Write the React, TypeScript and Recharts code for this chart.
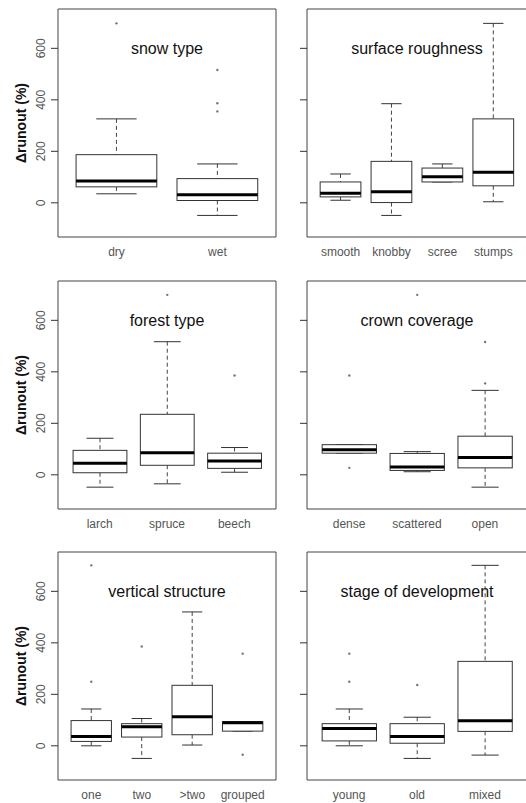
import React from 'react';
import { ComposedChart, Bar, XAxis, YAxis, ReferenceArea, Label } from 'recharts';

const FONT = '"Liberation Sans", Arial, sans-serif';

// each box: [low whisker, q1, median, q3, high whisker]
const snowCats = ['dry', 'wet'];
const snowStats = [[35, 62, 85, 187, 326], [-49, 9, 31, 94, 151]];
const snowOut = [[697], [516, 387, 355]];

const roughCats = ['smooth', 'knobby', 'scree', 'stumps'];
const roughStats = [[10, 23, 37, 81, 112], [-49, 1, 43, 161, 385], [81, 81, 101, 135, 151], [4, 66, 119, 326, 697]];
const roughOut = [[], [], [], []];

const forestCats = ['larch', 'spruce', 'beech'];
const forestStats = [[-48, 8, 45, 95, 142], [-35, 37, 86, 235, 517], [10, 25, 54, 84, 106]];
const forestOut = [[], [699], [386]];

const crownCats = ['dense', 'scattered', 'open'];
const crownStats = [[84, 84, 97, 117, 117], [12, 17, 30, 83, 90], [-48, 27, 67, 150, 328]];
const crownOut = [[386, 27], [699], [516, 355]];

const vertCats = ['one', 'two', '>two', 'grouped'];
const vertStats = [[0, 17, 36, 98, 143], [-49, 34, 74, 86, 106], [3, 43, 113, 235, 520], [57, 57, 90, 94, 94]];
const vertOut = [[701, 249], [386], [], [358, -35]];

const stageCats = ['young', 'old', 'mixed'];
const stageStats = [[0, 19, 67, 86, 143], [-49, 10, 36, 86, 111], [-36, 56, 97, 328, 701]];
const stageOut = [[358, 249], [236], []];

const yTicks = [0, 200, 400, 600];
const yDomain = [-132.8, 752.8];

const panels = [
  { title: 'snow type', cats: snowCats, stats: snowStats, out: snowOut },
  { title: 'surface roughness', cats: roughCats, stats: roughStats, out: roughOut },
  { title: 'forest type', cats: forestCats, stats: forestStats, out: forestOut },
  { title: 'crown coverage', cats: crownCats, stats: crownStats, out: crownOut },
  { title: 'vertical structure', cats: vertCats, stats: vertStats, out: vertOut },
  { title: 'stage of development', cats: stageCats, stats: stageStats, out: stageOut },
];

const colX = [58, 307];
const colW = [218, 220];
const rowY = [9, 281, 552];
const PLOT_H = 228;
const AXIS_W = 58;

const BoxShape = (props: any) => {
  const { x, y, width, height, payload } = props;
  const top = Math.min(y, y + height);
  const bot = Math.max(y, y + height);
  const k = (bot - top) / (payload.q3 - payload.q1);
  const py = (v: number) => bot - (v - payload.q1) * k;
  const cx = x + width / 2;
  const cap = width / 4;
  return (
    <g>
      <line x1={cx} x2={cx} y1={py(payload.hi)} y2={top} stroke="#444" strokeDasharray="4 3" />
      <line x1={cx} x2={cx} y1={bot} y2={py(payload.lo)} stroke="#444" strokeDasharray="4 3" />
      <line x1={cx - cap} x2={cx + cap} y1={py(payload.hi)} y2={py(payload.hi)} stroke="#333" />
      <line x1={cx - cap} x2={cx + cap} y1={py(payload.lo)} y2={py(payload.lo)} stroke="#333" />
      <rect x={x} y={top} width={width} height={bot - top} fill="#fff" stroke="#333" />
      <line x1={x} x2={x + width} y1={py(payload.med)} y2={py(payload.med)} stroke="#000" strokeWidth={3} />
      {payload.out.map((v: number, i: number) => (
        <circle key={i} cx={cx} cy={py(v)} r={1.2} fill="#777" />
      ))}
    </g>
  );
};

function Panel({ p, col, row }: any) {
  const n = p.cats.length;
  const pad = 0.04 * n;
  const xDomain = [0.5 - pad, n + 0.5 + pad];
  const w = colW[col];
  const data = p.cats.map((c: string, i: number) => ({
    x: i + 1,
    lo: p.stats[i][0],
    q1: p.stats[i][1],
    med: p.stats[i][2],
    q3: p.stats[i][3],
    hi: p.stats[i][4],
    out: p.out[i],
  }));
  const boxW = (w / (n + 2 * pad)) * 0.8;
  const showY = col === 0;

  return (
    <div style={{ position: 'absolute', left: colX[col] - AXIS_W, top: rowY[row] - 5 }}>
      <ComposedChart
        width={AXIS_W + w + 4}
        height={PLOT_H + 35}
        data={data}
        margin={{ top: 5, right: 4, bottom: 0, left: 0 }}
      >
        <XAxis
          type="number"
          dataKey="x"
          domain={xDomain}
          allowDataOverflow
          ticks={p.cats.map((_: string, i: number) => i + 1)}
          interval={0}
          tickFormatter={(v) => p.cats[v - 1]}
          tickLine={false}
          axisLine={false}
          tickSize={0}
          tickMargin={10}
          height={30}
          tick={{ fontSize: 12, fill: '#555', fontFamily: FONT }}
        />
        <YAxis
          type="number"
          domain={yDomain}
          allowDataOverflow
          ticks={yTicks}
          interval={0}
          width={AXIS_W}
          axisLine={false}
          tickSize={7}
          tickMargin={6}
          tickLine={{ stroke: '#333' }}
          tick={(t: any) =>
            showY ? (
              <text
                x={t.x}
                y={t.y}
                transform={`rotate(-90 ${t.x} ${t.y})`}
                textAnchor="middle"
                fontSize={12}
                fill="#555"
                fontFamily={FONT}
              >
                {t.payload.value}
              </text>
            ) : (
              <g />
            )
          }
        >
          {showY && (
            <Label
              content={({ viewBox }: any) => {
                const lx = viewBox.x + 26;
                const ly = viewBox.y + viewBox.height / 2;
                return (
                  <text
                    x={lx}
                    y={ly}
                    transform={`rotate(-90 ${lx} ${ly})`}
                    textAnchor="middle"
                    fontSize={14}
                    fontWeight="bold"
                    fill="#111"
                    fontFamily={FONT}
                  >
                    Δrunout (%)
                  </text>
                );
              }}
            />
          )}
        </YAxis>
        <ReferenceArea
          x1={xDomain[0]}
          x2={xDomain[1]}
          y1={yDomain[0]}
          y2={yDomain[1]}
          fill="none"
          stroke="#444"
          ifOverflow="visible"
        >
          <Label
            content={({ viewBox }: any) => (
              <text
                x={viewBox.x + viewBox.width / 2}
                y={viewBox.y + 45}
                textAnchor="middle"
                fontSize={16}
                fill="#111"
                fontFamily={FONT}
              >
                {p.title}
              </text>
            )}
          />
        </ReferenceArea>
        <Bar
          dataKey={(d: any) => [d.q1, d.q3]}
          barSize={boxW}
          shape={BoxShape}
          isAnimationActive={false}
        />
      </ComposedChart>
    </div>
  );
}

export default function App() {
  return (
    <div
      style={{
        position: 'absolute',
        left: 0,
        top: 0,
        width: 526,
        height: 803,
        overflow: 'hidden',
        background: '#fff',
      }}
    >
      {panels.map((p, i) => (
        <Panel key={p.title} p={p} col={i % 2} row={Math.floor(i / 2)} />
      ))}
    </div>
  );
}
